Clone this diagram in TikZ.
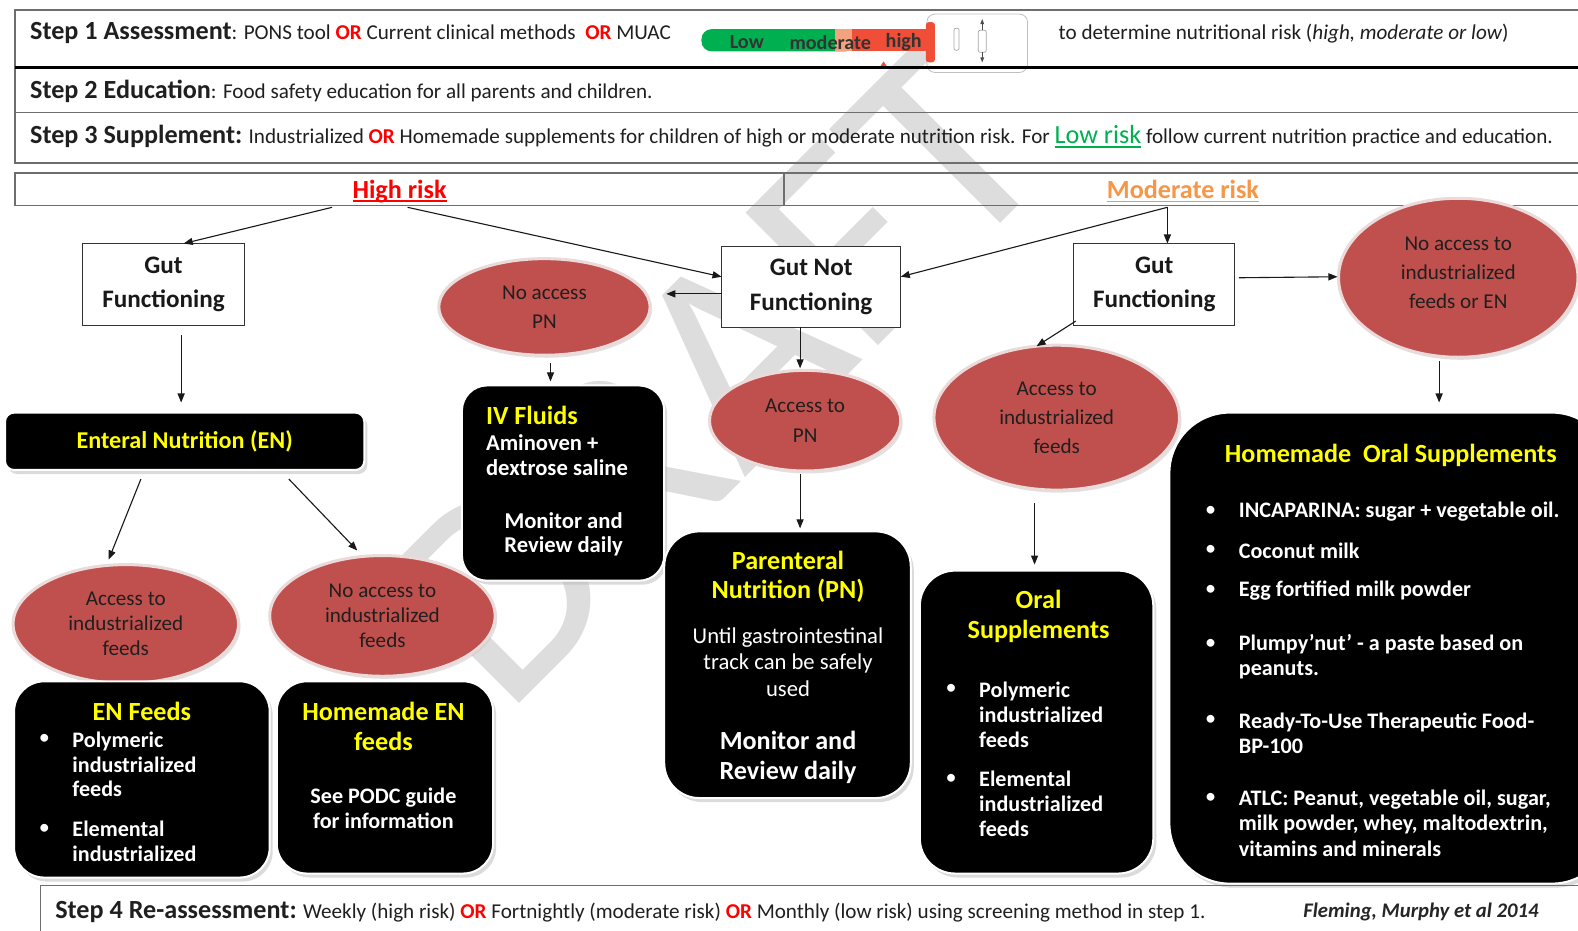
\documentclass[tikz,border=0pt]{standalone}
\usepackage{fontspec}
\setmainfont{Carlito}
\usetikzlibrary{shapes.geometric,arrows.meta,shadows,calc}
\definecolor{ellred}{HTML}{C0504D}
\definecolor{ellrim}{HTML}{EADADA}
\definecolor{orred}{HTML}{FF0000}
\definecolor{lowgreen}{HTML}{00B050}
\definecolor{modorange}{HTML}{F79646}
\definecolor{yel}{HTML}{FFFF00}
\definecolor{barred}{HTML}{F04E37}
\definecolor{peach}{HTML}{F4A27E}
\definecolor{wmgray}{HTML}{DDDDDD}
\definecolor{frame}{HTML}{6E6E6E}
\newcommand{\fsz}[2]{\fontsize{#1}{#2}\selectfont}
\newcommand{\orw}{\textcolor{orred}{\bfseries OR}}
\newcommand{\ulin}[1]{\setbox0\hbox{#1}\rlap{\rule[-3.5pt]{\wd0}{1.6pt}}\box0}
\begin{document}
\begin{tikzpicture}[x=1pt,y=-1pt,
  every node/.style={inner sep=0pt, outer sep=0pt},
  arr/.style={-{Triangle[length=9pt,width=7pt]}, line width=1.1pt, draw=black!90},
  frm/.style={draw=frame, line width=1.3pt},
  gutbox/.style={draw=black!80, line width=1pt, fill=white, align=center, font=\fsz{25}{34}\bfseries, text=black!90},
  ell/.style={ellipse, fill=ellred, draw=ellrim, line width=3pt, align=center, text=black!88, font=\fsz{21}{29}, drop shadow={shadow xshift=2pt, shadow yshift=-2.5pt, fill=black!22}},
  ellsm/.style={ell, font=\fsz{21}{25}},
  blk/.style={fill=black, draw=white, line width=2pt, drop shadow={shadow xshift=3pt, shadow yshift=-4pt, fill=black!28}},
  ytxt/.style={text=yel, font=\fsz{26}{29}\bfseries, align=center},
  wtxt/.style={text=white, font=\fsz{22}{24.5}\bfseries, align=left},
  wreg/.style={text=white, font=\fsz{22.5}{26}, align=center},
  wbold/.style={text=white, font=\fsz{22.5}{24.5}\bfseries, align=center},
  bul/.style={text=white, font=\fsz{22}{25}}
]
\useasboundingbox (0,0) rectangle (1568,925);
\fill[white] (0,0) rectangle (1568,925);

% watermark
\node[rotate=45, text=wmgray, font=\fsz{290}{290}] (wm) at (712,372) {DRAFT};

% risk scale graphic
\draw[black!25, fill=white, rounded corners=8pt, line width=0.8pt] (921,14) rectangle (1021,72);
\draw[black!35, rounded corners=2pt, line width=0.7pt] (948,28) rectangle (953,50);
\draw[black!35, rounded corners=2pt, line width=0.7pt] (972,30) rectangle (980,52);
\draw[black!70, line width=0.6pt] (976,21) -- (976,30) (976,52) -- (976,60);
\fill[black!70] (976,19) -- (974,24) -- (978,24) -- cycle;
\fill[black!70] (976,62) -- (974,57) -- (978,57) -- cycle;
\fill[lowgreen, rounded corners=10pt] (697,29) rectangle (850,51);
\fill[peach] (830,29) rectangle (847,51);
\fill[barred] (847,29) rectangle (925,51);
\fill[barred, rounded corners=3pt] (920,22) rectangle (929,62);
\fill[barred] (878,61) -- (874,67) -- (882,67) -- cycle;
\node[font=\fsz{20}{24}\bfseries, text=black!80] (lowt) at (742,42) {Low};
\node[font=\fsz{20}{24}\bfseries, text=black!80] (modt) at (825,42) {moderate};
\node[font=\fsz{20}{24}\bfseries, text=black!80] (hight) at (898,42) {high};

% header rows
\node[frm, anchor=north west, minimum width=1565, minimum height=57] (row1) at (15,10) {};
\node[frm, anchor=north west, minimum width=1565, minimum height=45] (row2) at (15,67) {};
\node[frm, anchor=north west, minimum width=1565, minimum height=50] (row3) at (15,112) {};
\draw[black, line width=2.5pt] (row1.south west) -- (row1.south east);

\node[anchor=west, font=\fsz{21}{25}, text=black!88] (t1) at (30,33) {{\bfseries\fsz{26}{30}Step 1 Assessment}: PONS tool \orw{} Current clinical methods~~\orw{} MUAC};
\node[anchor=west, font=\fsz{21}{25}, text=black!88] (t1b) at (1052,33) {to determine nutritional risk (\textit{high, moderate or low})};
\node[anchor=west, font=\fsz{21}{25}, text=black!88] (t2) at (30,91) {{\bfseries\fsz{26}{30}Step 2 Education}: Food safety education for all parents and children.};
\node[anchor=west, font=\fsz{21}{25}, text=black!88] (t3) at (30,136) {{\bfseries\fsz{26}{30}Step 3 Supplement:} Industrialized \orw{} Homemade supplements for children of high or moderate nutrition risk. For \textcolor{lowgreen}{\fsz{26}{30}\ulin{Low risk}} follow current nutrition practice and education.};

% risk row
\node[frm, anchor=north west, minimum width=764, minimum height=32] (hrbox) at (15,172) {};
\node[frm, anchor=north west, minimum width=793, minimum height=32] (mrbox) at (779,172) {};
\node[font=\fsz{26}{30}\bfseries, text=orred] (hr) at ($(hrbox.center)+(0,2)$) {\ulin{High risk}};
\node[font=\fsz{26}{30}\bfseries, text=modorange] (mr) at ($(mrbox.center)+(0,2)$) {\ulin{Moderate risk}};

% gut boxes
\node[gutbox, minimum width=161, minimum height=81] (gf1) at (162.5,282.5) {Gut\\Functioning};
\node[gutbox, minimum width=178, minimum height=80] (gnf) at (806,285) {Gut Not\\Functioning};
\node[gutbox, minimum width=160, minimum height=81] (gf2) at (1147,282.5) {Gut\\Functioning};

% ellipses
\node[ell, minimum width=210, minimum height=96] (nopn) at (541,305) {No access\\PN};
\node[ell, minimum width=190, minimum height=100] (apn) at (800,418) {Access to\\PN};
\node[ell, minimum width=244, minimum height=144] (aif) at (1050,415) {Access to\\industrialized\\feeds};
\node[ell, minimum width=238, minimum height=158] (naif) at (1449,276) {No access to\\industrialized\\feeds or EN\\[-19pt]\mbox{}};
\node[ellsm, minimum width=224, minimum height=118] (aif1) at (125,620) {Access to\\industrialized\\feeds};
\node[ellsm, minimum width=224, minimum height=120] (naif1) at (380,612) {No access to\\industrialized\\feeds};

% black boxes
\node[blk, rounded corners=9pt, minimum width=357, minimum height=57, text=yel, font=\fsz{24}{28}\bfseries] (en) at (183.5,438.5) {Enteral Nutrition (EN)};

\node[blk, rounded corners=25pt, minimum width=201, minimum height=194] (iv) at (559.5,480) {};
\node[ytxt, anchor=west] (iv1) at (483,413) {IV Fluids};
\node[wtxt, font=\fsz{22.5}{25}\bfseries, anchor=west] (iv2) at (483,452.5) {Aminoven +\\dextrose saline};
\node[wbold] (iv3) at (560,531) {Monitor and\\Review daily};

\node[blk, rounded corners=30pt, minimum width=254, minimum height=195] (enf) at (141,774.5) {};
\node[ytxt] (enf1) at (141,707) {EN Feeds};
\node[bul] (enfb1) at (44,735) {\textbullet};
\node[wtxt, anchor=west] (enfi1) at (72,759.5) {Polymeric\\industrialized\\feeds};
\node[bul] (enfb2) at (44,824) {\textbullet};
\node[wtxt, anchor=west] (enfi2) at (72,836) {Elemental\\industrialized};

\node[blk, rounded corners=30pt, minimum width=215, minimum height=191] (hen) at (382.5,772.5) {};
\node[ytxt, font=\fsz{26}{30}\bfseries] (hen1) at (381,722) {Homemade EN\\feeds};
\node[wbold, font=\fsz{22}{25}\bfseries] (hen2) at (381,803.5) {See PODC guide\\for information};

\node[blk, rounded corners=35pt, minimum width=245, minimum height=265] (pn) at (782.5,660.5) {};
\node[ytxt] (pn1) at (783,573.5) {Parenteral\\Nutrition (PN)};
\node[wreg] (pn2) at (783,658) {Until gastrointestinal\\track can be safely\\used};
\node[wbold, font=\fsz{26}{29}\bfseries] (pn3) at (783,752.5) {Monitor and\\Review daily};

\node[blk, rounded corners=35pt, minimum width=232, minimum height=301] (oral) at (1030,717.5) {};
\node[ytxt] (or1) at (1032,612.5) {Oral\\Supplements};
\node[bul] (orb1) at (945,685) {\textbullet};
\node[wtxt, anchor=west, font=\fsz{22}{25}\bfseries] (ori1) at (973,710) {Polymeric\\industrialized\\feeds};
\node[bul] (orb2) at (945,774) {\textbullet};
\node[wtxt, anchor=west, font=\fsz{22}{25}\bfseries] (ori2) at (973,799) {Elemental\\industrialized\\feeds};

\node[blk, rounded corners=60pt, minimum width=440, minimum height=468] (hos) at (1382,644) {};
\node[ytxt, font=\fsz{26}{30}\bfseries] (hos0) at (1382,452) {Homemade\hspace{0.45em}Oral Supplements};
\node[bul] (hb1) at (1203,508) {\textbullet};
\node[bul] (hb2) at (1203,547) {\textbullet};
\node[bul] (hb3) at (1203,587) {\textbullet};
\node[bul] (hb4) at (1203,640) {\textbullet};
\node[bul] (hb5) at (1203,716) {\textbullet};
\node[bul] (hb6) at (1203,793) {\textbullet};
\node[wtxt, anchor=west, font=\fsz{22}{25}\bfseries] (hi1) at (1231,508) {INCAPARINA: sugar + vegetable oil.};
\node[wtxt, anchor=west, font=\fsz{22}{25}\bfseries] (hi2) at (1231,547) {Coconut milk};
\node[wtxt, anchor=west, font=\fsz{22}{25}\bfseries] (hi3) at (1231,587) {Egg fortified milk powder};
\node[wtxt, anchor=west, font=\fsz{22}{25}\bfseries] (hi4) at (1231,652.5) {Plumpy’nut’ - a paste based on\\peanuts.};
\node[wtxt, anchor=west, font=\fsz{22}{25}\bfseries] (hi5) at (1231,728.5) {Ready-To-Use Therapeutic Food-\\BP-100};
\node[wtxt, anchor=west, font=\fsz{22}{25}\bfseries] (hi6) at (1231,818) {ATLC: Peanut, vegetable oil, sugar,\\milk powder, whey, maltodextrin,\\vitamins and minerals};

% step 4
\node[frm, anchor=north west, minimum width=1545, minimum height=60] (row4) at (40,880) {};
\node[anchor=west, font=\fsz{21}{24}, text=black!88] (s4) at (55,906) {{\bfseries\fsz{26}{30}Step 4 Re-assessment:} Weekly (high risk) \orw{} Fortnightly (moderate risk) \orw{} Monthly (low risk) using screening method in step 1.};
\node[anchor=west, font=\fsz{20.6}{24}\bfseries\itshape, text=black!85] (cite) at (1295,906) {Fleming, Murphy et al 2014};

% arrows
\draw[arr] ($(hrbox.south)+(-67,2)$) -- ($(gf1.north)+(20,0)$);
\draw[arr] ($(hrbox.south)+(8,2)$) -- ($(gnf.west)+(0,-10)$);
\draw[arr] ($(mrbox.south)+(-15.5,2)$) -- ($(gnf.east)+(0,-10)$);
\draw[arr] ($(mrbox.south)+(-15.5,2)$) -- ($(gf2.north)+(13,0)$);
\draw[arr] ($(gnf.west)+(0,7)$) -- ($(nopn.east)+(16,-13)$);
\draw[arr] ($(gf2.east)+(4,-6.5)$) -- ($(naif.west)+(-1,-1)$);
\draw[arr] ($(gf2.south west)+(2,-4)$) -- ($(aif.north)+(-20,1)$);
\draw[arr] ($(gnf.south)+(-11,0)$) -- ($(apn.north)+(-5,-2)$);
\draw[arr] ($(nopn.south)+(6,8)$) -- ($(iv.north)+(-12.5,-4)$);
\draw[arr] ($(gf1.south)+(17.5,10)$) -- ($(en.north)+(-3.5,-10)$);
\draw[arr] ($(en.south)+(-43.5,9)$) -- ($(aif1.north)+(-17,-5)$);
\draw[arr] ($(en.south)+(103.5,9)$) -- ($(naif1.north)+(-25,-5)$);
\draw[arr] ($(apn.south)+(-5,3)$) -- ($(pn.north)+(12.5,-3)$);
\draw[arr] ($(aif.south)+(-22,13)$) -- ($(oral.north)+(-2,-6)$);
\draw[arr] ($(naif.south)+(-19,4)$) -- ($(hos.north)+(48,-10)$);
\end{tikzpicture}
\end{document}
